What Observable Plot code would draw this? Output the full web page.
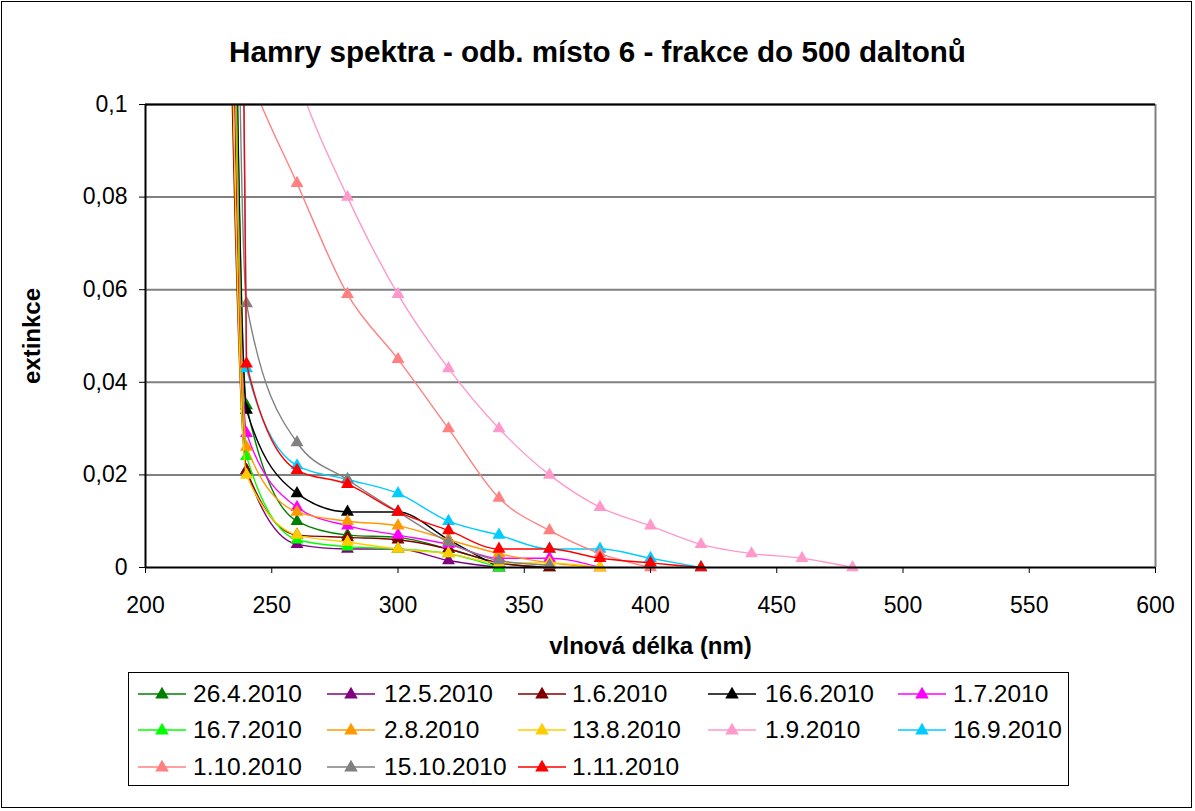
<!DOCTYPE html>
<html>
<head>
<meta charset="utf-8">
<script src="https://cdn.jsdelivr.net/npm/d3@7"></script>
<script src="https://cdn.jsdelivr.net/npm/@observablehq/plot@0.6"></script>
<style>
  html, body { margin: 0; padding: 0; background: #fff; }
  #page { position: relative; width: 1195px; height: 811px; overflow: hidden; font-family: "Liberation Sans", Arial, sans-serif; color: #000; }
  #border { position: absolute; left: 1px; top: 1px; width: 1191px; height: 807px; border: 1px solid #000; box-sizing: border-box; }
  #title { position: absolute; left: 0; width: 1195px; top: 35px; text-align: center; font-weight: bold; font-size: 29.6px; line-height: 34px; }
  #chart { position: absolute; left: 0; top: 80px; }
  #chart g[aria-label="x-axis label"] text, #chart g[aria-label="y-axis label"] text { font-weight: bold; font-size: 24px; }
  #legend { position: absolute; left: 128px; top: 672px; width: 941px; height: 114px; border: 1px solid #000; box-sizing: border-box; }
  .sw { position: absolute; }
  .lbl { position: absolute; font-size: 24.5px; line-height: 30px; white-space: nowrap; }
</style>
</head>
<body>
<div id="page">
  <div id="border"></div>
  <div id="title">Hamry spektra - odb. místo 6 - frakce do 500 daltonů</div>
  <div id="chart"></div>
  <div id="legend"></div>
</div>
<script>
// wavelengths (nm)
const wavelengths = [230, 240, 260, 280, 300, 320, 340, 360, 380, 400, 420, 440, 460, 480];

// series values (extinkce), null = no measurement
const s_26_4  = [0.40, 0.035, 0.010, 0.007, 0.0065, 0.004, 0.001, 0.000];
const s_12_5  = [0.30, 0.021, 0.005, 0.004, 0.004, 0.0015, 0.000];
const s_1_6   = [0.22, 0.021, 0.007, 0.0065, 0.006, 0.004, 0.001, 0.000];
const s_16_6  = [0.40, 0.034, 0.016, 0.012, 0.012, 0.006, 0.000];
const s_1_7   = [0.35, 0.029, 0.013, 0.009, 0.007, 0.005, 0.002, 0.002, 0.000];
const s_16_7  = [0.38, 0.024, 0.006, 0.0045, 0.004, 0.003, 0.000];
const s_2_8   = [0.33, 0.026, 0.012, 0.010, 0.009, 0.006, 0.003, 0.001, 0.000];
const s_13_8  = [0.25, 0.020, 0.007, 0.0055, 0.004, 0.003, 0.001, 0.001, 0.000];
const s_1_9   = [0.19, 0.145, 0.106, 0.080, 0.059, 0.043, 0.030, 0.020, 0.013, 0.009, 0.005, 0.003, 0.002, 0.000];
const s_16_9  = [0.60, 0.043, 0.022, 0.019, 0.016, 0.010, 0.007, 0.004, 0.004, 0.002, 0.000];
const s_1_10  = [0.125, 0.108, 0.083, 0.059, 0.045, 0.030, 0.015, 0.008, 0.003, 0.000];
const s_15_10 = [0.50, 0.057, 0.027, 0.019, 0.012, 0.0055, 0.0015, 0.0005];
const s_1_11  = [0.60, 0.044, 0.021, 0.018, 0.012, 0.008, 0.004, 0.004, 0.002, 0.001, 0.000];

const seriesNames = ["26.4.2010", "12.5.2010", "1.6.2010", "16.6.2010", "1.7.2010",
                     "16.7.2010", "2.8.2010", "13.8.2010", "1.9.2010", "16.9.2010",
                     "1.10.2010", "15.10.2010", "1.11.2010"];
const seriesValues = [s_26_4, s_12_5, s_1_6, s_16_6, s_1_7, s_16_7, s_2_8, s_13_8, s_1_9, s_16_9, s_1_10, s_15_10, s_1_11];
const seriesColors = ["#008000", "#800080", "#800000", "#000000", "#FF00FF",
                      "#00FF00", "#FF9900", "#FFCC00", "#FF99CC", "#00CCFF",
                      "#FF8080", "#808080", "#FF0000"];

const xTicks = [200, 250, 300, 350, 400, 450, 500, 550, 600];
const yTicks = [0, 0.02, 0.04, 0.06, 0.08, 0.1];

const tables = seriesNames.map((name, i) =>
  seriesValues[i].map((v, j) => ({name, nm: wavelengths[j], v})).filter(d => d.v != null)
);

const marks = [
  Plot.gridY(yTicks.filter(t => t > 0), {stroke: "#808080", strokeOpacity: 1, strokeWidth: 2})
];
tables.forEach((rows, i) => {
  marks.push(Plot.line(rows, {x: "nm", y: "v", stroke: seriesColors[i], strokeWidth: 1.4, curve: "monotone-x", clip: true}));
  marks.push(Plot.dot(rows.filter(d => d.v <= 0.1), {x: "nm", y: "v", fill: seriesColors[i], symbol: "triangle", r: 4.8, stroke: "none"}));
});
marks.push(
  Plot.ruleX([600], {stroke: "#808080", strokeWidth: 2}),
  Plot.ruleY([0.1], {stroke: "#000", strokeWidth: 2}),
  Plot.ruleX([200], {stroke: "#000", strokeWidth: 2}),
  Plot.ruleY([0], {stroke: "#000", strokeWidth: 2}),
  Plot.axisX({ticks: xTicks, tickSize: 6, tickPadding: 23, tickFormat: d => String(d),
              label: "vlnová délka (nm)", labelAnchor: "center", labelOffset: 86, labelArrow: "none"}),
  Plot.axisY({ticks: yTicks, tickSize: 6, tickPadding: 12,
              tickFormat: d => d === 0 ? "0" : String(+d.toFixed(2)).replace(".", ","),
              label: "extinkce", labelAnchor: "center", labelOffset: 123, labelArrow: "none"})
);

const chart = Plot.plot({
  width: 1195,
  height: 600,
  marginLeft: 145,
  marginRight: 40,
  marginTop: 24,
  marginBottom: 113,
  style: {fontFamily: "'Liberation Sans', Arial, sans-serif", fontSize: "23px", color: "#000", background: "transparent", overflow: "visible"},
  x: {domain: [200, 600], labelArrow: "none"},
  y: {domain: [0, 0.1], labelArrow: "none"},
  marks
});
document.getElementById("chart").appendChild(chart);

// legend
const legend = document.getElementById("legend");
const colSwatch = [138, 327, 518, 708, 898];
const colText = [193, 384, 572, 765, 953];
const rowCenter = [694, 730, 767];
seriesNames.forEach((name, i) => {
  const r = Math.floor(i / 5), c = i % 5;
  const w = 48;
  const sw = document.createElement("div");
  sw.className = "sw";
  sw.style.left = (colSwatch[c] - 129) + "px";
  sw.style.top = (rowCenter[r] - 673 - 10) + "px";
  sw.innerHTML = `<svg width="${w}" height="20" style="display:block"><line x1="0" x2="${w}" y1="10" y2="10" stroke="${seriesColors[i]}" stroke-width="1.5"/>` +
    `<path d="${d3.symbol(d3.symbolTriangle, 80)()}" transform="translate(${w/2},10.5)" fill="${seriesColors[i]}"/></svg>`;
  legend.appendChild(sw);
  const lb = document.createElement("div");
  lb.className = "lbl";
  lb.style.left = (colText[c] - 129) + "px";
  lb.style.top = (rowCenter[r] - 673 - 15) + "px";
  lb.textContent = name;
  legend.appendChild(lb);
});
</script>
</body>
</html>
